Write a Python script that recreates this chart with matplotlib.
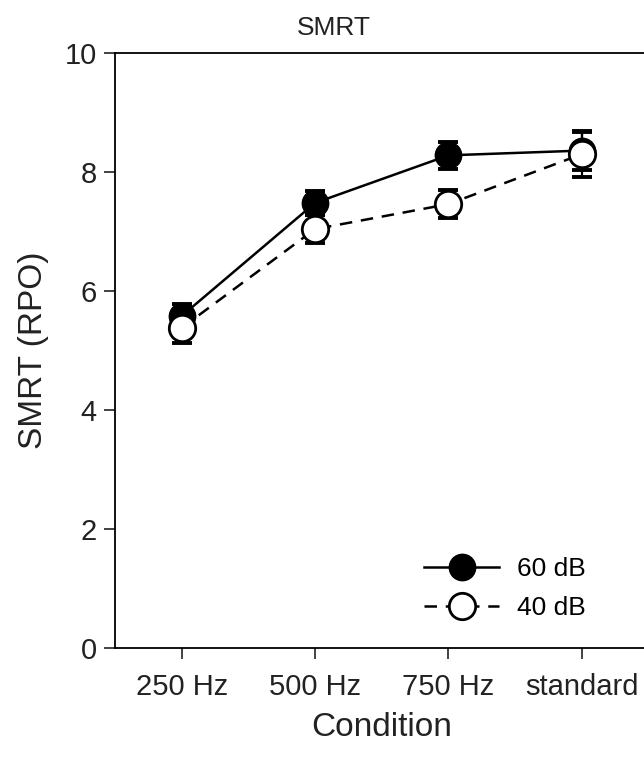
import matplotlib.pyplot as plt

plt.rcParams['font.family'] = ['Liberation Sans', 'DejaVu Sans']

# dados
condicoes = ['250 Hz', '500 Hz', '750 Hz', 'standard']
smrt_60 = [5.58, 7.48, 8.28, 8.36]
erro_60 = [0.20, 0.20, 0.23, 0.33]
smrt_40 = [5.38, 7.04, 7.46, 8.30]
erro_40 = [0.25, 0.24, 0.23, 0.38]
y_ticks = [0, 2, 4, 6, 8, 10]

fig = plt.figure(figsize=(6.44, 7.6), dpi=100)
# eixo um pouco além da borda direita (a figura original vem cortada)
ax = fig.add_axes([115 / 644, (760 - 648) / 760, (648.5 - 115) / 644, (648 - 53) / 760])

x = list(range(len(condicoes)))

# barras de erro atrás dos marcadores
ax.errorbar(x, smrt_60, yerr=erro_60, fmt='none', ecolor='black', elinewidth=1.6,
            capsize=7, capthick=2.8, zorder=2)
ax.errorbar(x, smrt_40, yerr=erro_40, fmt='none', ecolor='black', elinewidth=1.6,
            capsize=7, capthick=2.8, zorder=2)

ax.plot(x, smrt_60, color='black', linestyle='-', linewidth=1.8, marker='o',
        markersize=19, markerfacecolor='black', markeredgecolor='black', label='60 dB', zorder=3)
ax.plot(x, smrt_40, color='black', linestyle=(0, (5, 3.5)), linewidth=1.8, marker='o',
        markersize=19, markerfacecolor='white', markeredgecolor='black', markeredgewidth=2,
        label='40 dB', zorder=4)

ax.set_xlim(-0.5, 3.5)
ax.set_ylim(0, 10)
ax.set_yticks(y_ticks)
ax.set_xticks(x)
ax.set_xticklabels(condicoes)
ax.tick_params(axis='both', direction='out', length=8, width=1.2, labelsize=21, colors='#222222')
ax.tick_params(axis='x', pad=10)
ax.tick_params(axis='y', pad=5)
ax.spines['right'].set_visible(False)
for s in ['left', 'bottom', 'top']:
    ax.spines[s].set_linewidth(1.3)

fig.text(334 / 644, 1 - 28 / 760, 'SMRT', fontsize=19, ha='center', va='center', color='#222222')
ax.set_xlabel('Condition', fontsize=24, labelpad=8, color='#222222')
ax.set_ylabel('SMRT (RPO)', fontsize=24, labelpad=11, color='#222222')

ax.legend(loc='center left', bbox_to_anchor=(0.535, 0.10), frameon=False, fontsize=19,
          handlelength=2.85, handletextpad=0.68, labelspacing=0.55, markerscale=1.0)

fig.savefig('out.png', dpi=100)
